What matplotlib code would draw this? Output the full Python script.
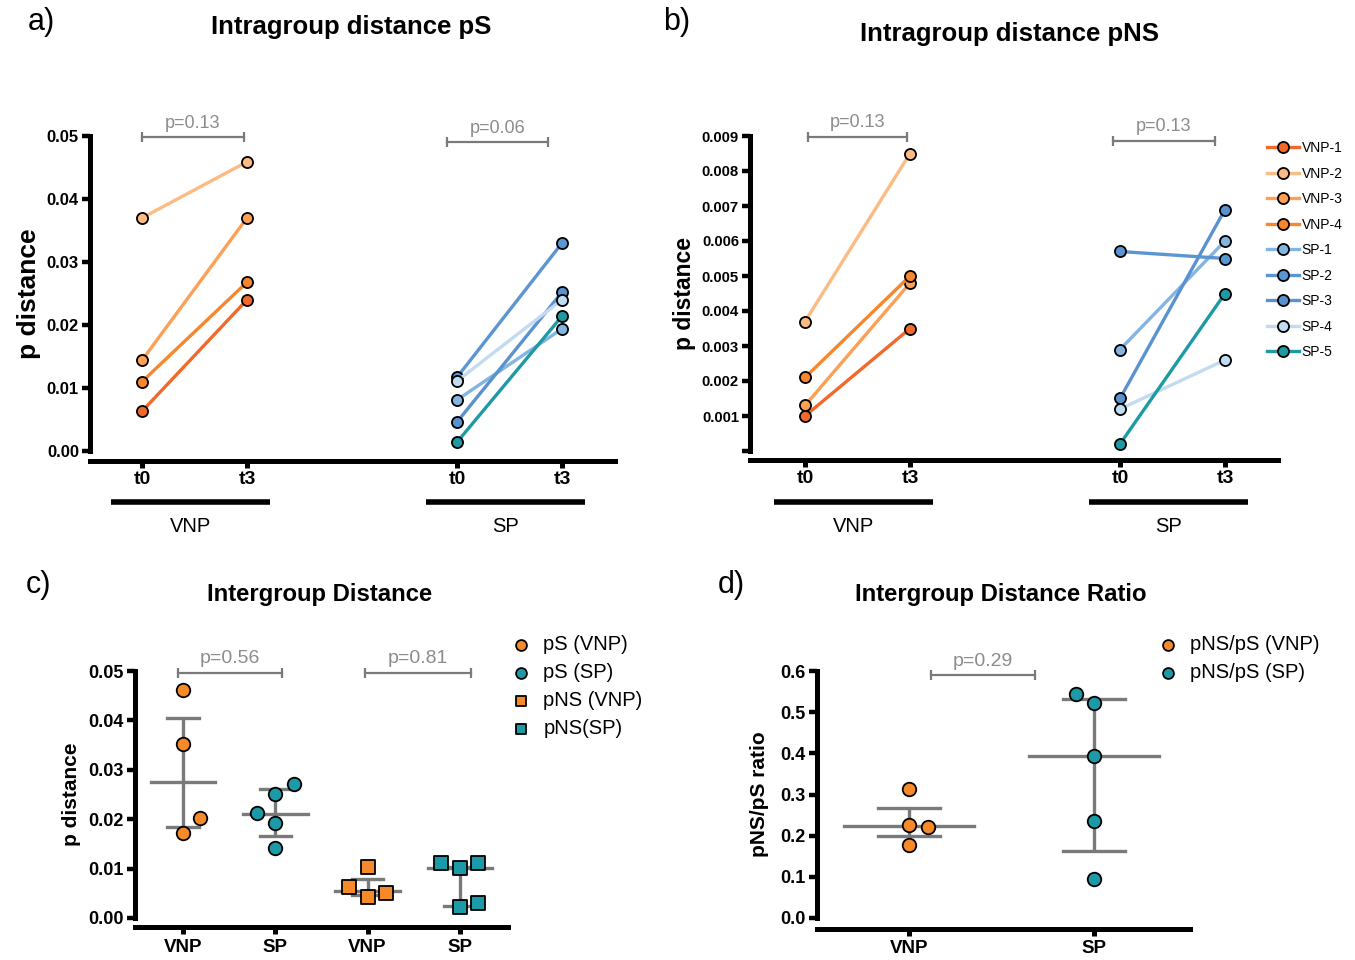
import matplotlib
matplotlib.use('Agg')
import matplotlib.pyplot as plt
import matplotlib.transforms as mtransforms

plt.rcParams['font.family'] = ['Liberation Sans', 'DejaVu Sans']

W, H = 1355, 960

# ---- data ----
timepoints = ['t0', 't3']
vnp_names = ['VNP-1', 'VNP-2', 'VNP-3', 'VNP-4']
sp_names = ['SP-1', 'SP-2', 'SP-3', 'SP-4', 'SP-5']
vnp_colors = ['#f26a2b', '#fdbb84', '#fca055', '#f7872e']
sp_colors = ['#84b4e0', '#5b95d2', '#5a92d0', '#c2dbf1', '#1e9aa5']

# intragroup pS (t0, t3)
ps_vnp = [[0.0063, 0.0240], [0.0370, 0.0459], [0.0144, 0.0370], [0.0110, 0.0268]]
ps_sp = [[0.0081, 0.0194], [0.0117, 0.0330], [0.0046, 0.0252], [0.0111, 0.0240], [0.0014, 0.0214]]
# intragroup pNS (t0, t3)
pns_vnp = [[0.0010, 0.0035], [0.0037, 0.0085], [0.0013, 0.0048], [0.0021, 0.0050]]
pns_sp = [[0.0029, 0.0060], [0.0057, 0.0055], [0.0015, 0.0069], [0.0012, 0.0026], [0.0002, 0.0045]]

# intergroup distance
inter_labels = ['pS (VNP)', 'pS (SP)', 'pNS (VNP)', 'pNS(SP)']
inter_ticks = ['VNP', 'SP', 'VNP', 'SP']
inter_vals = [[0.0462, 0.0352, 0.0202, 0.0172],
              [0.0212, 0.0251, 0.0271, 0.0192, 0.0142],
              [0.0103, 0.0063, 0.0051, 0.0043],
              [0.0111, 0.0101, 0.0111, 0.0030, 0.0022]]
inter_median = [0.0275, 0.0211, 0.0055, 0.0101]
inter_low = [0.0184, 0.0166, 0.0047, 0.0024]
inter_high = [0.0405, 0.0261, 0.0079, 0.0104]

# ratio
ratio_labels = ['pNS/pS (VNP)', 'pNS/pS (SP)']
ratio_ticks = ['VNP', 'SP']
ratio_vals = [[0.313, 0.226, 0.221, 0.177], [0.544, 0.522, 0.393, 0.236, 0.095]]
ratio_median = [0.223, 0.393]
ratio_low = [0.199, 0.163]
ratio_high = [0.267, 0.532]

# horizontal scatter offsets (layout)
inter_jitter = [[0, 0, 0.18, 0], [-0.2, 0, 0.2, 0, 0], [0, -0.2, 0.2, 0], [-0.2, 0, 0.2, 0.2, 0]]
ratio_jitter = [[0, 0, 0.1, 0], [-0.1, 0, 0, 0, 0]]

ORANGE = '#f58a2b'
TEAL = '#1c9aa8'
GREY = '#7a7a7a'
PGREY = '#8c8c8c'

fig = plt.figure(figsize=(W / 100, H / 100), dpi=100)


def px_axes(x0, y0, x1, y1):
    return fig.add_axes([x0 / W, 1 - y1 / H, (x1 - x0) / W, (y1 - y0) / H])


def style(ax, out_px, ytick_size, xtick_size, xpad=1):
    for s in ['top', 'right']:
        ax.spines[s].set_visible(False)
    ax.spines['left'].set_linewidth(3.6)
    ax.spines['bottom'].set_linewidth(3.6)
    ax.spines['bottom'].set_position(('outward', out_px * 0.72))
    ax.tick_params(axis='y', length=6, width=3.2, labelsize=ytick_size, pad=2)
    ax.tick_params(axis='x', length=5, width=3.6, labelsize=xtick_size, pad=xpad)
    for lab in ax.get_yticklabels() + ax.get_xticklabels():
        lab.set_fontweight('bold')


def bracket(ax, x0, x1, y, text, fs=13):
    ax.plot([x0, x1], [y, y], color=GREY, lw=1.6, clip_on=False)
    for xx in (x0, x1):
        ax.plot([xx], [y], marker='|', ms=7, mew=1.6, color=GREY, clip_on=False)
    ax.annotate(text, xy=((x0 + x1) / 2, y), xytext=(0, 4), textcoords='offset points',
                ha='center', va='bottom', color=PGREY, fontsize=fs, annotation_clip=False)


def group_bar(ax, xa, xb, label, ybar, ytxt):
    trans = mtransforms.blended_transform_factory(ax.transData, ax.transAxes)
    ax.plot([xa, xb], [ybar, ybar], color='black', lw=4, transform=trans, clip_on=False,
            solid_capstyle='butt')
    ax.text((xa + xb) / 2, ytxt, label, transform=trans, ha='center', va='center', fontsize=14.5)


def paired_panel(ax, vnp, sp, ymax, yticks, yticklabels, title, letter, lpos, tpos):
    pos_v = [0, 1]
    pos_s = [3, 4]
    for vals, c, n in zip(vnp, vnp_colors, vnp_names):
        ax.plot(pos_v, vals, '-o', color=c, lw=2.4, ms=8, mec='black', mew=1.3, label=n, zorder=3)
    for vals, c, n in zip(sp, sp_colors, sp_names):
        ax.plot(pos_s, vals, '-o', color=c, lw=2.4, ms=8, mec='black', mew=1.3, label=n, zorder=3)
    ax.set_ylim(0, ymax)
    ax.set_yticks(yticks)
    ax.set_yticklabels(yticklabels)
    ax.set_xticks(pos_v + pos_s)
    ax.set_xticklabels(timepoints * 2)
    fig.text(lpos[0] / W, 1 - lpos[1] / H, letter, fontsize=22, ha='left', va='center')
    fig.text(tpos[0] / W, 1 - tpos[1] / H, title, fontsize=18.5, fontweight='bold',
             ha='center', va='center')
    group_bar(ax, -0.3, 1.22, 'VNP', -0.162, -0.24)
    group_bar(ax, 2.7, 4.22, 'SP', -0.162, -0.24)


# ---- a) ----
axa = px_axes(90, 136, 615, 451)
paired_panel(axa, ps_vnp, ps_sp, 0.05, [0, 0.01, 0.02, 0.03, 0.04, 0.05],
             ['0.00', '0.01', '0.02', '0.03', '0.04', '0.05'],
             'Intragroup distance pS', 'a)', (28, 22), (351, 27))
axa.set_xlim((90 - 142) / 105, (615 - 142) / 105)
axa.set_ylabel('p distance', fontsize=19, fontweight='bold', labelpad=4)
style(axa, 10, 12, 14, xpad=2)
bracket(axa, 0, 0.97, 0.0498, 'p=0.13')
bracket(axa, 2.9, 3.87, 0.0490, 'p=0.06')

# ---- b) ----
axb = px_axes(750, 136, 1278, 451)
paired_panel(axb, pns_vnp, pns_sp, 0.009, [0, 0.001, 0.002, 0.003, 0.004, 0.005, 0.006, 0.007, 0.008, 0.009],
             ['', '0.001', '0.002', '0.003', '0.004', '0.005', '0.006', '0.007', '0.008', '0.009'],
             'Intragroup distance pNS', 'b)', (663, 22), (1010, 34))
axb.set_xlim((750 - 805) / 105, (1278 - 805) / 105)
axb.set_ylabel('p distance', fontsize=16.5, fontweight='bold', labelpad=4)
style(axb, 9, 10.7, 14, xpad=2)
bracket(axb, 0.03, 0.97, 0.00897, 'p=0.13')
bracket(axb, 2.93, 3.9, 0.00886, 'p=0.13')
axb.legend(loc='upper left', bbox_to_anchor=(1267 / W, 1 - 141 / H), bbox_transform=fig.transFigure,
           frameon=False, fontsize=10, handlelength=2.3, labelspacing=0.83, handletextpad=0.2,
           borderaxespad=0, borderpad=0)


def dot_panel(ax, vals_list, jitter, markers, colors, labels, med, lo, hi):
    for i, (vals, jit, m, c, lab) in enumerate(zip(vals_list, jitter, markers, colors, labels)):
        ax.plot([i, i], [lo[i], hi[i]], color=GREY, lw=2.4, zorder=2, solid_capstyle='butt')
        ax.plot([i - 0.35, i + 0.35], [med[i], med[i]], color=GREY, lw=2.4, zorder=2)
        ax.plot([i - 0.17, i + 0.17], [lo[i], lo[i]], color=GREY, lw=2.4, zorder=2)
        ax.plot([i - 0.17, i + 0.17], [hi[i], hi[i]], color=GREY, lw=2.4, zorder=2)
        ax.scatter([i + j for j in jit], vals, marker=m, s=95, c=c, edgecolors='black',
                   linewidths=1.3, zorder=3, label=lab)


# ---- c) ----
axc = px_axes(135, 671, 508, 918)
dot_panel(axc, inter_vals, inter_jitter, ['o', 'o', 's', 's'], [ORANGE, TEAL, ORANGE, TEAL],
          inter_labels, inter_median, inter_low, inter_high)
axc.set_xlim((135 - 183) / 92.3, (508 - 183) / 92.3)
axc.set_ylim(0, 0.05)
axc.set_yticks([0, 0.01, 0.02, 0.03, 0.04, 0.05])
axc.set_yticklabels(['0.00', '0.01', '0.02', '0.03', '0.04', '0.05'])
axc.set_xticks(range(len(inter_ticks)))
axc.set_xticklabels(inter_ticks)
axc.set_ylabel('p distance', fontsize=15, fontweight='bold', labelpad=5)
style(axc, 9, 13, 13.5, xpad=4)
bracket(axc, -0.05, 1.07, 0.0496, 'p=0.56', fs=14)
bracket(axc, 1.97, 3.12, 0.0496, 'p=0.81', fs=14)
axc.legend(loc='upper left', bbox_to_anchor=(511 / W, 1 - 635 / H), bbox_transform=fig.transFigure,
           frameon=False, fontsize=14.5, handlelength=1.0, labelspacing=0.45, handletextpad=0.6,
           borderaxespad=0, borderpad=0, scatterpoints=1, markerscale=0.8)
fig.text(26 / W, 1 - 585 / H, 'c)', fontsize=22, ha='left', va='center')
fig.text(320 / W, 1 - 595 / H, 'Intergroup Distance', fontsize=17.2, fontweight='bold',
         ha='center', va='center')

# ---- d) ----
axd = px_axes(817, 671, 1190, 918)
dot_panel(axd, ratio_vals, ratio_jitter, ['o', 'o'], [ORANGE, TEAL], ratio_labels,
          ratio_median, ratio_low, ratio_high)
axd.set_xlim((817 - 909) / 185, (1190 - 909) / 185)
axd.set_ylim(0, 0.6)
axd.set_yticks([0, 0.1, 0.2, 0.3, 0.4, 0.5, 0.6])
axd.set_yticklabels(['0.0', '0.1', '0.2', '0.3', '0.4', '0.5', '0.6'])
axd.set_xticks(range(len(ratio_ticks)))
axd.set_xticklabels(ratio_ticks)
axd.set_ylabel('pNS/pS ratio', fontsize=15, fontweight='bold', labelpad=8)
style(axd, 11, 13, 13.5, xpad=3)
bracket(axd, 0.12, 0.68, 0.59, 'p=0.29', fs=14)
axd.legend(loc='upper left', bbox_to_anchor=(1158 / W, 1 - 635 / H), bbox_transform=fig.transFigure,
           frameon=False, fontsize=14.5, handlelength=1.0, labelspacing=0.45, handletextpad=0.6,
           borderaxespad=0, borderpad=0, scatterpoints=1, markerscale=0.8)
fig.text(718 / W, 1 - 585 / H, 'd)', fontsize=22, ha='left', va='center')
fig.text(1001 / W, 1 - 594 / H, 'Intergroup Distance Ratio', fontsize=17.2, fontweight='bold',
         ha='center', va='center')

fig.savefig('out.png', dpi=100)
